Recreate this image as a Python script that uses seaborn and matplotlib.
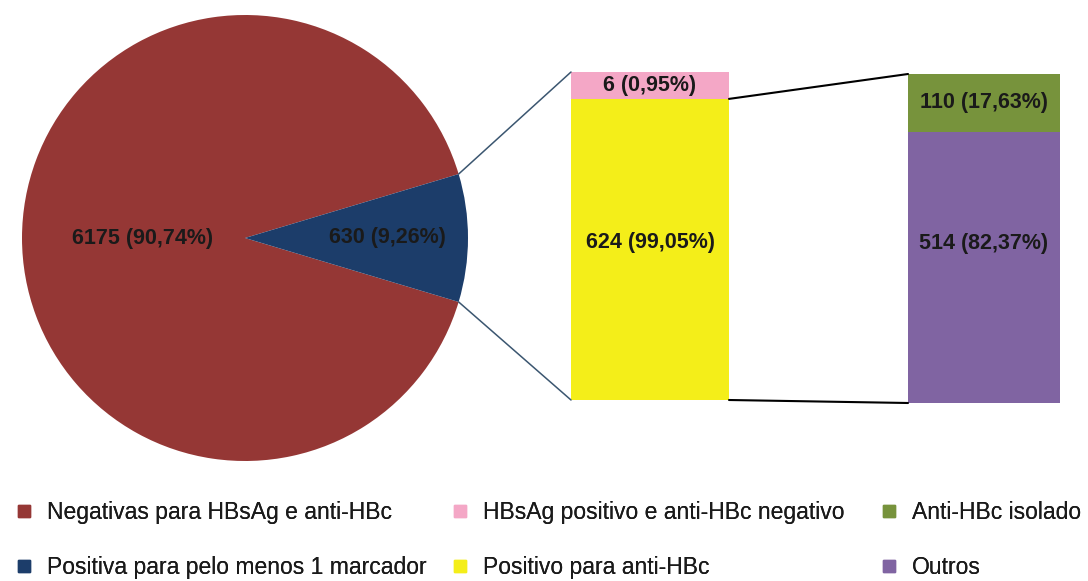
import numpy as np
import matplotlib
matplotlib.use("Agg")
import matplotlib.pyplot as plt
import seaborn as sns
from matplotlib.patches import ConnectionPatch
from matplotlib.lines import Line2D
from matplotlib.transforms import blended_transform_factory

sns.set_theme(style="white")
plt.rcParams["font.family"] = ["Liberation Sans", "DejaVu Sans"]

# Amostras totais
pie_labels = ["Negativas para HBsAg e anti-HBc", "Positiva para pelo menos 1 marcador"]
pie_counts = [6175, 630]
pie_colors = ["#953735", "#1C3D6A"]

# Detalhamento das positivas
mid_labels = ["HBsAg positivo e anti-HBc negativo", "Positivo para anti-HBc"]
mid_counts = [6, 624]
mid_colors = ["#F4A7C6", "#F4EE19"]

# Detalhamento das positivas para anti-HBc
right_labels = ["Anti-HBc isolado", "Outros"]
right_counts = [110, 514]
right_colors = ["#77933C", "#8064A2"]

TEXT = "#1a1a1a"
LABEL_SIZE = 15.5
W, H = 1088, 581


def box(x0, y0, x1, y1):
    return [x0 / W, 1 - y1 / H, (x1 - x0) / W, (y1 - y0) / H]


def fmt(n, total):
    return f"{n} ({100 * n / total:.2f}%)".replace(".", ",")


fig = plt.figure(figsize=(W / 100, H / 100), dpi=100)

# ---- pizza ----
ax_pie = fig.add_axes(box(22, 15, 468, 461))
pie_total = sum(pie_counts)
half = 360 * pie_counts[1] / pie_total / 2
wedges, _ = ax_pie.pie(pie_counts, colors=pie_colors, startangle=half,
                       counterclock=True, radius=1, wedgeprops=dict(linewidth=0))
ax_pie.set_xlim(-1, 1)
ax_pie.set_ylim(-1, 1)
ax_pie.set_axis_off()
for w, n, dist in zip(wedges, pie_counts, [0.46, 0.64]):
    ang = np.deg2rad((w.theta1 + w.theta2) / 2)
    ax_pie.text(dist * np.cos(ang), dist * np.sin(ang), fmt(n, pie_total),
                ha="center", va="center", fontsize=LABEL_SIZE, fontweight="bold", color=TEXT)

# ---- barra do meio (escala expandida no topo para o segmento pequeno) ----
ax1 = fig.add_axes(box(571, 72, 729, 400))
mid_total = sum(mid_counts)
brk = mid_counts[1]
f_brk = 0.918


def fwd(y):
    y = np.asarray(y, dtype=float)
    return np.where(y <= brk, y / brk * f_brk, f_brk + (y - brk) / (mid_total - brk) * (1 - f_brk))


def inv(v):
    v = np.asarray(v, dtype=float)
    return np.where(v <= f_brk, v / f_brk * brk, brk + (v - f_brk) / (1 - f_brk) * (mid_total - brk))


sns.barplot(x=[0], y=[mid_total], color=mid_colors[0], width=1, saturation=1,
            linewidth=0, ax=ax1)
sns.barplot(x=[0], y=[mid_counts[1]], color=mid_colors[1], width=1, saturation=1,
            linewidth=0, ax=ax1)
ax1.set_yscale("function", functions=(fwd, inv))
ax1.set_xlim(-0.5, 0.5)
ax1.set_ylim(0, mid_total)
ax1.set_axis_off()
ax1.text(0, (mid_counts[1] + mid_total) / 2, fmt(mid_counts[0], mid_total),
         ha="center", va="center", fontsize=LABEL_SIZE, fontweight="bold", color=TEXT)
ax1.text(0, 0.48, fmt(mid_counts[1], mid_total),
         transform=blended_transform_factory(ax1.transData, ax1.transAxes),
         ha="center", va="center", fontsize=LABEL_SIZE, fontweight="bold", color=TEXT)

# ---- barra da direita ----
ax2 = fig.add_axes(box(908, 74, 1060, 403))
right_total = sum(right_counts)
sns.barplot(x=[0], y=[right_total], color=right_colors[0], width=1, saturation=1,
            linewidth=0, ax=ax2)
sns.barplot(x=[0], y=[right_counts[1]], color=right_colors[1], width=1, saturation=1,
            linewidth=0, ax=ax2)
ax2.set_xlim(-0.5, 0.5)
ax2.set_ylim(0, right_total)
ax2.set_axis_off()
ax2.text(0, (right_counts[1] + right_total) / 2, fmt(right_counts[0], right_total),
         ha="center", va="center", fontsize=LABEL_SIZE, fontweight="bold", color=TEXT)
ax2.text(0, 0.485, fmt(right_counts[1], right_total),
         transform=blended_transform_factory(ax2.transData, ax2.transAxes),
         ha="center", va="center", fontsize=LABEL_SIZE, fontweight="bold", color=TEXT)

# ---- linhas de ligação ----
blue = wedges[1]
for ang, yb in [(blue.theta2, mid_total), (blue.theta1, 0)]:
    a = np.deg2rad(ang)
    fig.add_artist(ConnectionPatch(xyA=(np.cos(a), np.sin(a)), coordsA=ax_pie.transData,
                                   xyB=(-0.5, yb), coordsB=ax1.transData,
                                   color="#3B5670", linewidth=1.1))
for ya, yb in [(mid_counts[1], right_total), (0, 0)]:
    fig.add_artist(ConnectionPatch(xyA=(0.5, ya), coordsA=ax1.transData,
                                   xyB=(-0.5, yb), coordsB=ax2.transData,
                                   color="black", linewidth=1.5))

# ---- legenda em três colunas ----
columns = [
    (pie_labels, pie_colors, 15),
    (mid_labels, mid_colors, 451),
    (right_labels, right_colors, 880),
]
for labels, colors, x_left in columns:
    handles = [Line2D([], [], marker="s", linestyle="none", markersize=8.5,
                      markerfacecolor=c, markeredgecolor=c) for c in colors]
    leg = fig.legend(handles, labels, loc="upper left",
                     bbox_to_anchor=(x_left / W, 1 - 501 / H),
                     frameon=False, fontsize=16.5, handlelength=0.75,
                     handletextpad=0.65, labelspacing=1.38,
                     borderpad=0, borderaxespad=0)
    for t in leg.get_texts():
        t.set_color(TEXT)
    fig.add_artist(leg)

fig.savefig("out.png", dpi=100, facecolor="white")
